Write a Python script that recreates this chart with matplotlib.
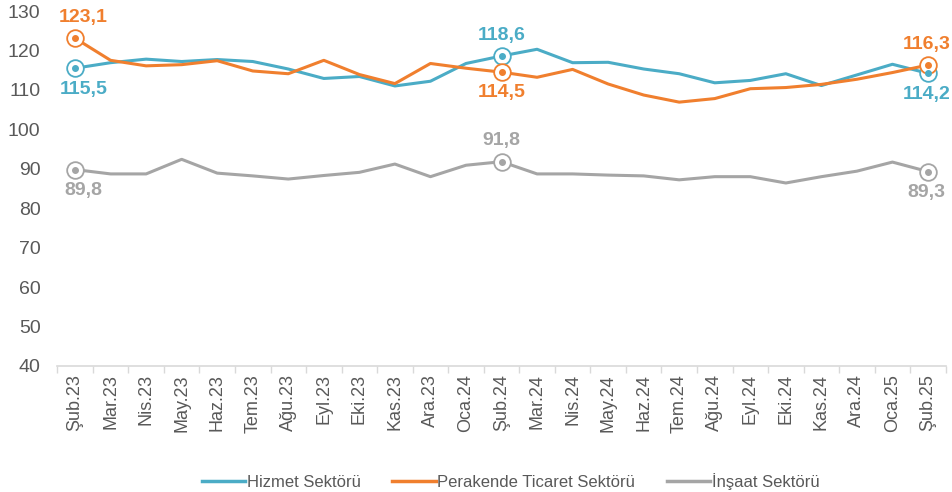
import numpy as np
import matplotlib.pyplot as plt
from matplotlib.lines import Line2D

plt.rcParams['font.family'] = ['Liberation Sans', 'DejaVu Sans']

months = ['Şub.23', 'Mar.23', 'Nis.23', 'May.23', 'Haz.23', 'Tem.23', 'Ağu.23', 'Eyl.23',
          'Eki.23', 'Kas.23', 'Ara.23', 'Oca.24', 'Şub.24', 'Mar.24', 'Nis.24', 'May.24',
          'Haz.24', 'Tem.24', 'Ağu.24', 'Eyl.24', 'Eki.24', 'Kas.24', 'Ara.24', 'Oca.25', 'Şub.25']

hizmet = [115.5, 116.9, 117.8, 117.2, 117.7, 117.2, 115.3, 112.9, 113.4, 111.0, 112.2, 116.7,
          118.6, 120.3, 116.9, 117.0, 115.3, 114.1, 111.8, 112.4, 114.1, 111.1, 113.8, 116.5, 114.2]
perakende = [123.1, 117.5, 116.1, 116.4, 117.4, 114.8, 114.1, 117.5, 113.9, 111.6, 116.7, 115.5,
             114.5, 113.2, 115.2, 111.5, 108.7, 106.9, 107.8, 110.3, 110.6, 111.4, 112.7, 114.4, 116.3]
insaat = [89.8, 88.7, 88.7, 92.4, 88.9, 88.2, 87.4, 88.3, 89.1, 91.2, 88.0, 90.9,
          91.8, 88.7, 88.7, 88.4, 88.2, 87.2, 88.0, 88.0, 86.4, 88.0, 89.4, 91.7, 89.3]

names = ['Hizmet Sektörü', 'Perakende Ticaret Sektörü', 'İnşaat Sektörü']
colors = ['#4BACC6', '#F07F2E', '#A5A5A5']
highlight = [0, 12, 24]
# +1 label above the point, -1 below
side = {
    0: {0: -1, 12: 1, 24: -1},
    1: {0: 1, 12: -1, 24: 1},
    2: {0: -1, 12: 1, 24: -1},
}
xshift = {0: 6, 12: 0, 24: -1}

fig = plt.figure(figsize=(9.53, 4.92), dpi=100)
ax = fig.add_axes([0.0601, 0.2561, 0.9323, 0.7215])

x = np.arange(len(months))
for k, (vals, c) in enumerate(zip([hizmet, perakende, insaat], colors)):
    ax.plot(x, vals, color=c, lw=2.2, zorder=3)
    for i in highlight:
        ax.plot(x[i], vals[i], 'o', ms=12, mfc='white', mec=c, mew=1.3, zorder=4)
        ax.plot(x[i], vals[i], 'o', ms=4, color=c, zorder=5)
        s = side[k][i]
        ax.annotate(f'{vals[i]:.1f}'.replace('.', ','), (x[i], vals[i]),
                    xytext=(xshift[i], 15 * s), textcoords='offset points',
                    ha='center', va='center',
                    fontsize=14, fontweight='bold', color=c, zorder=6)

ax.set_xlim(-0.5, len(months) - 0.5)
ax.set_ylim(40, 130)
ax.set_yticks(range(40, 131, 10))
ax.set_xticks(x)
ax.set_xticklabels(months, rotation=90, fontsize=13, color='#595959')
ax.set_xticks(np.arange(-0.5, len(months), 1), minor=True)
ax.tick_params(axis='x', which='major', length=0, pad=6)
ax.tick_params(axis='x', which='minor', length=5, color='#D9D9D9', width=1)
ax.tick_params(axis='y', length=0, labelsize=14, labelcolor='#595959', pad=12)
for sp in ['top', 'right', 'left']:
    ax.spines[sp].set_visible(False)
ax.spines['bottom'].set_color('#D9D9D9')
ax.spines['bottom'].set_linewidth(1.2)
ax.patch.set_alpha(0)

handles = [Line2D([0], [0], color=c, lw=2.5) for c in colors]
fig.legend(handles, names, loc='center', bbox_to_anchor=(0.536, 0.022), ncol=3,
           frameon=False, fontsize=12, handlelength=2.6, handletextpad=0.1,
           columnspacing=1.9, labelcolor='#595959')

fig.savefig('out.png', dpi=100)
